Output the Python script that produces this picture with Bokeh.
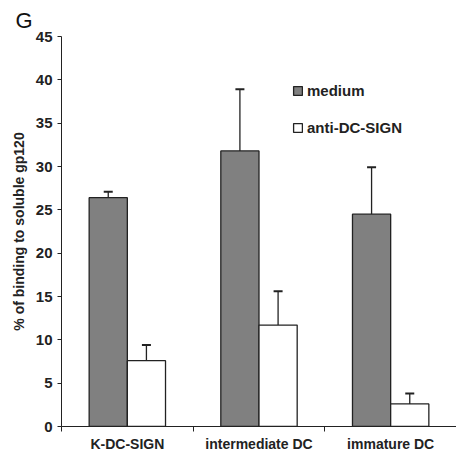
from bokeh.plotting import figure
from bokeh.models import (ColumnDataSource, Range1d, FixedTicker, Whisker, TeeHead,
                          Legend, LegendItem, Title)
from bokeh.embed import file_html
from bokeh.resources import INLINE

categories = ["K-DC-SIGN", "intermediate DC", "immature DC"]
medium = [26.4, 31.8, 24.5]
medium_err = [0.7, 7.1, 5.4]
anti = [7.6, 11.7, 2.6]
anti_err = [1.8, 3.9, 1.2]
y_ticks = [0, 5, 10, 15, 20, 25, 30, 35, 40, 45]

FONT = "Liberation Sans"
W = 0.29
idx = list(range(len(categories)))
x_med = [i + 0.5 - W / 2 for i in idx]
x_anti = [i + 0.5 + W / 2 for i in idx]

src_med = ColumnDataSource(dict(x=x_med, top=medium,
                                upper=[v + e for v, e in zip(medium, medium_err)]))
src_anti = ColumnDataSource(dict(x=x_anti, top=anti,
                                 upper=[v + e for v, e in zip(anti, anti_err)]))

p = figure(width=456, height=454, output_backend="svg", toolbar_location=None,
           x_range=Range1d(0, 3.0), y_range=Range1d(0, 45),
           min_border_left=61, min_border_right=0, min_border_top=36, min_border_bottom=28)
p.outline_line_color = None
p.xgrid.visible = False
p.ygrid.visible = False
p.background_fill_color = "white"
p.border_fill_color = "white"

t = Title(text="G", align="left", offset=-46, text_font=FONT, text_font_size="22px",
          text_font_style="normal", text_color="#111111", standoff=8)
p.add_layout(t, "above")

# error bars (upper only)
for src in (src_med, src_anti):
    wk = Whisker(source=src, base="x", lower="top", upper="upper", dimension="height",
                 line_color="#222222", line_width=1.3,
                 upper_head=TeeHead(size=9, line_color="#222222", line_width=2),
                 lower_head=None)
    p.add_layout(wk)

r_med = p.vbar(x="x", top="top", bottom=0, width=W, source=src_med,
               fill_color="#808080", line_color="#222222", line_width=1.3)
r_anti = p.vbar(x="x", top="top", bottom=0, width=W, source=src_anti,
                fill_color="white", line_color="#222222", line_width=1.3)

# y axis
ya = p.yaxis[0]
ya.ticker = FixedTicker(ticks=y_ticks)
ya.major_tick_out = 4
ya.major_tick_in = 0
ya.minor_tick_out = 0
ya.minor_tick_in = 0
ya.axis_line_color = "#222222"
ya.major_tick_line_color = "#222222"
ya.major_label_text_font = FONT
ya.major_label_text_font_size = "15px"
ya.major_label_text_font_style = "bold"
ya.major_label_text_color = "#222222"
ya.major_label_standoff = 5
ya.axis_label = "% of binding to soluble gp120"
ya.axis_label_text_font = FONT
ya.axis_label_text_font_size = "14px"
ya.axis_label_text_font_style = "bold"
ya.axis_label_text_color = "#222222"
ya.axis_label_standoff = 6

# x axis: labels at category centres, ticks at category boundaries
xa = p.xaxis[0]
xa.ticker = FixedTicker(ticks=[i + 0.5 for i in idx], minor_ticks=[0, 1, 2, 3])
xa.major_label_overrides = {i + 0.5: c for i, c in zip(idx, categories)}
xa.major_tick_out = 0
xa.major_tick_in = 0
xa.minor_tick_out = 5
xa.minor_tick_in = 0
xa.minor_tick_line_color = "#222222"
xa.axis_line_color = "#222222"
xa.major_label_text_font = FONT
xa.major_label_text_font_size = "14px"
xa.major_label_text_font_style = "bold"
xa.major_label_text_color = "#222222"
xa.major_label_standoff = 4

legend = Legend(items=[LegendItem(label="medium", renderers=[r_med]),
                       LegendItem(label="anti-DC-SIGN", renderers=[r_anti])],
                location=(231, 290), glyph_width=11, glyph_height=11,
                label_height=14, spacing=20, padding=0, margin=0,
                label_standoff=4, border_line_color=None,
                background_fill_alpha=0,
                label_text_font=FONT, label_text_font_size="15px",
                label_text_font_style="bold", label_text_color="#222222")
p.add_layout(legend)

open("out.html", "w").write(file_html(p, INLINE))
